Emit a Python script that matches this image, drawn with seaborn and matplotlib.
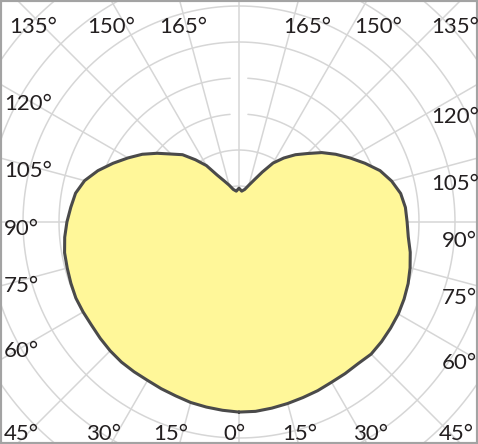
import numpy as np
import pandas as pd
import matplotlib
matplotlib.use('Agg')
import matplotlib.pyplot as plt
import seaborn as sns
from matplotlib import font_manager
from matplotlib.patches import Rectangle

# Lichtstärkeverteilung (cd), gamma in Grad, zwei Halbebenen
gamma = np.arange(0, 181, 5)
i_right = [528, 528, 525, 522, 519, 517, 514, 514, 514, 519, 517, 514, 511,
           506, 500, 492, 483, 472, 467, 464, 456, 439, 417, 386, 356, 328,
           300, 269, 244, 217, 189, 153, 125, 106, 92, 86, 94]
i_left = [528, 525, 522, 519, 514, 511, 508, 508, 508, 506, 503, 500, 500,
          500, 497, 494, 492, 486, 478, 469, 461, 444, 417, 386, 356, 328,
          297, 267, 244, 211, 181, 144, 122, 106, 92, 86, 94]

# Winkelbeschriftung am Rand
lbl_text = ['135°', '150°', '165°', '165°', '150°', '135°',
            '120°', '105°', '90°', '75°', '60°',
            '120°', '105°', '90°', '75°', '60°',
            '45°', '30°', '15°', '0°', '15°', '30°', '45°']
# (x Mitte, Grundlinie) in Pixel von oben links
lbl_pos = [(33, 33), (111, 33), (183, 33), (307, 33), (378, 33), (455, 33),
           (28, 110), (28, 177), (21, 235), (21, 292), (21, 357),
           (455, 123), (455, 190), (459, 247), (459, 304), (459, 369),
           (21, 440), (104, 440), (171, 440), (234, 440), (300, 440), (371, 440), (456, 440)]

W, H = 478, 444
cx, cy = 239, 222      # Mittelpunkt
px_per_100 = 36        # Ringabstand
R = 340

theta = np.deg2rad(np.r_[gamma, 360 - gamma[::-1]])
r = np.r_[i_right, i_left[::-1]]
df = pd.DataFrame({'theta': theta, 'r': r})

sns.set_style('white')
# schmale Schrift wenn vorhanden
try:
    font_manager.findfont('Liberation Sans Narrow', fallback_to_default=False)
    lbl_font, lbl_size = 'Liberation Sans Narrow', 18
except Exception:
    lbl_font, lbl_size = 'Lato', 16
plt.rcParams['font.family'] = [lbl_font, 'DejaVu Sans']

fig = plt.figure(figsize=(W / 100, H / 100), dpi=100)
ax = fig.add_axes([(cx - R) / W, (H - cy - R) / H, 2 * R / W, 2 * R / H], projection='polar')

rmax = R * 100 / px_per_100

# Ringe (mit Lücke oben für die Werte)
t = np.linspace(0, 2 * np.pi, 1441)
for rr in range(100, 1000, 100):
    tt = t.copy()
    if rr in (300, 400):
        gap = 8.5 / (rr * px_per_100 / 100)
        tt = np.where(np.abs(tt - np.pi) < gap, np.nan, tt)
    ax.plot(tt, np.full_like(t, rr), color='#d6d6d6', lw=1.1, zorder=1)

ax.fill(df['theta'], df['r'], color='#fff799', zorder=2, lw=0)
sns.lineplot(data=df, x='theta', y='r', sort=False, estimator=None,
             color='#4a4a4a', lw=2.2, ax=ax, zorder=3)

ax.set_theta_zero_location('S')
ax.set_ylim(0, rmax)
ax.set_xticks(np.deg2rad(np.arange(0, 360, 15)))
ax.set_xticklabels([])
ax.set_yticks([])
ax.xaxis.grid(True, color='#d6d6d6', lw=1.1)
ax.spines['polar'].set_visible(False)
ax.set_xlabel('')
ax.set_ylabel('')

for s, (x, y) in zip(lbl_text, lbl_pos):
    fig.text(x / W, 1 - y / H, s, ha='center', va='baseline',
             fontsize=lbl_size, color='#231f20')

fig.add_artist(Rectangle((0, 0), 1, 1, transform=fig.transFigure,
                         fill=False, ec='#a3a3a3', lw=3))

fig.savefig('out.png', dpi=100)
